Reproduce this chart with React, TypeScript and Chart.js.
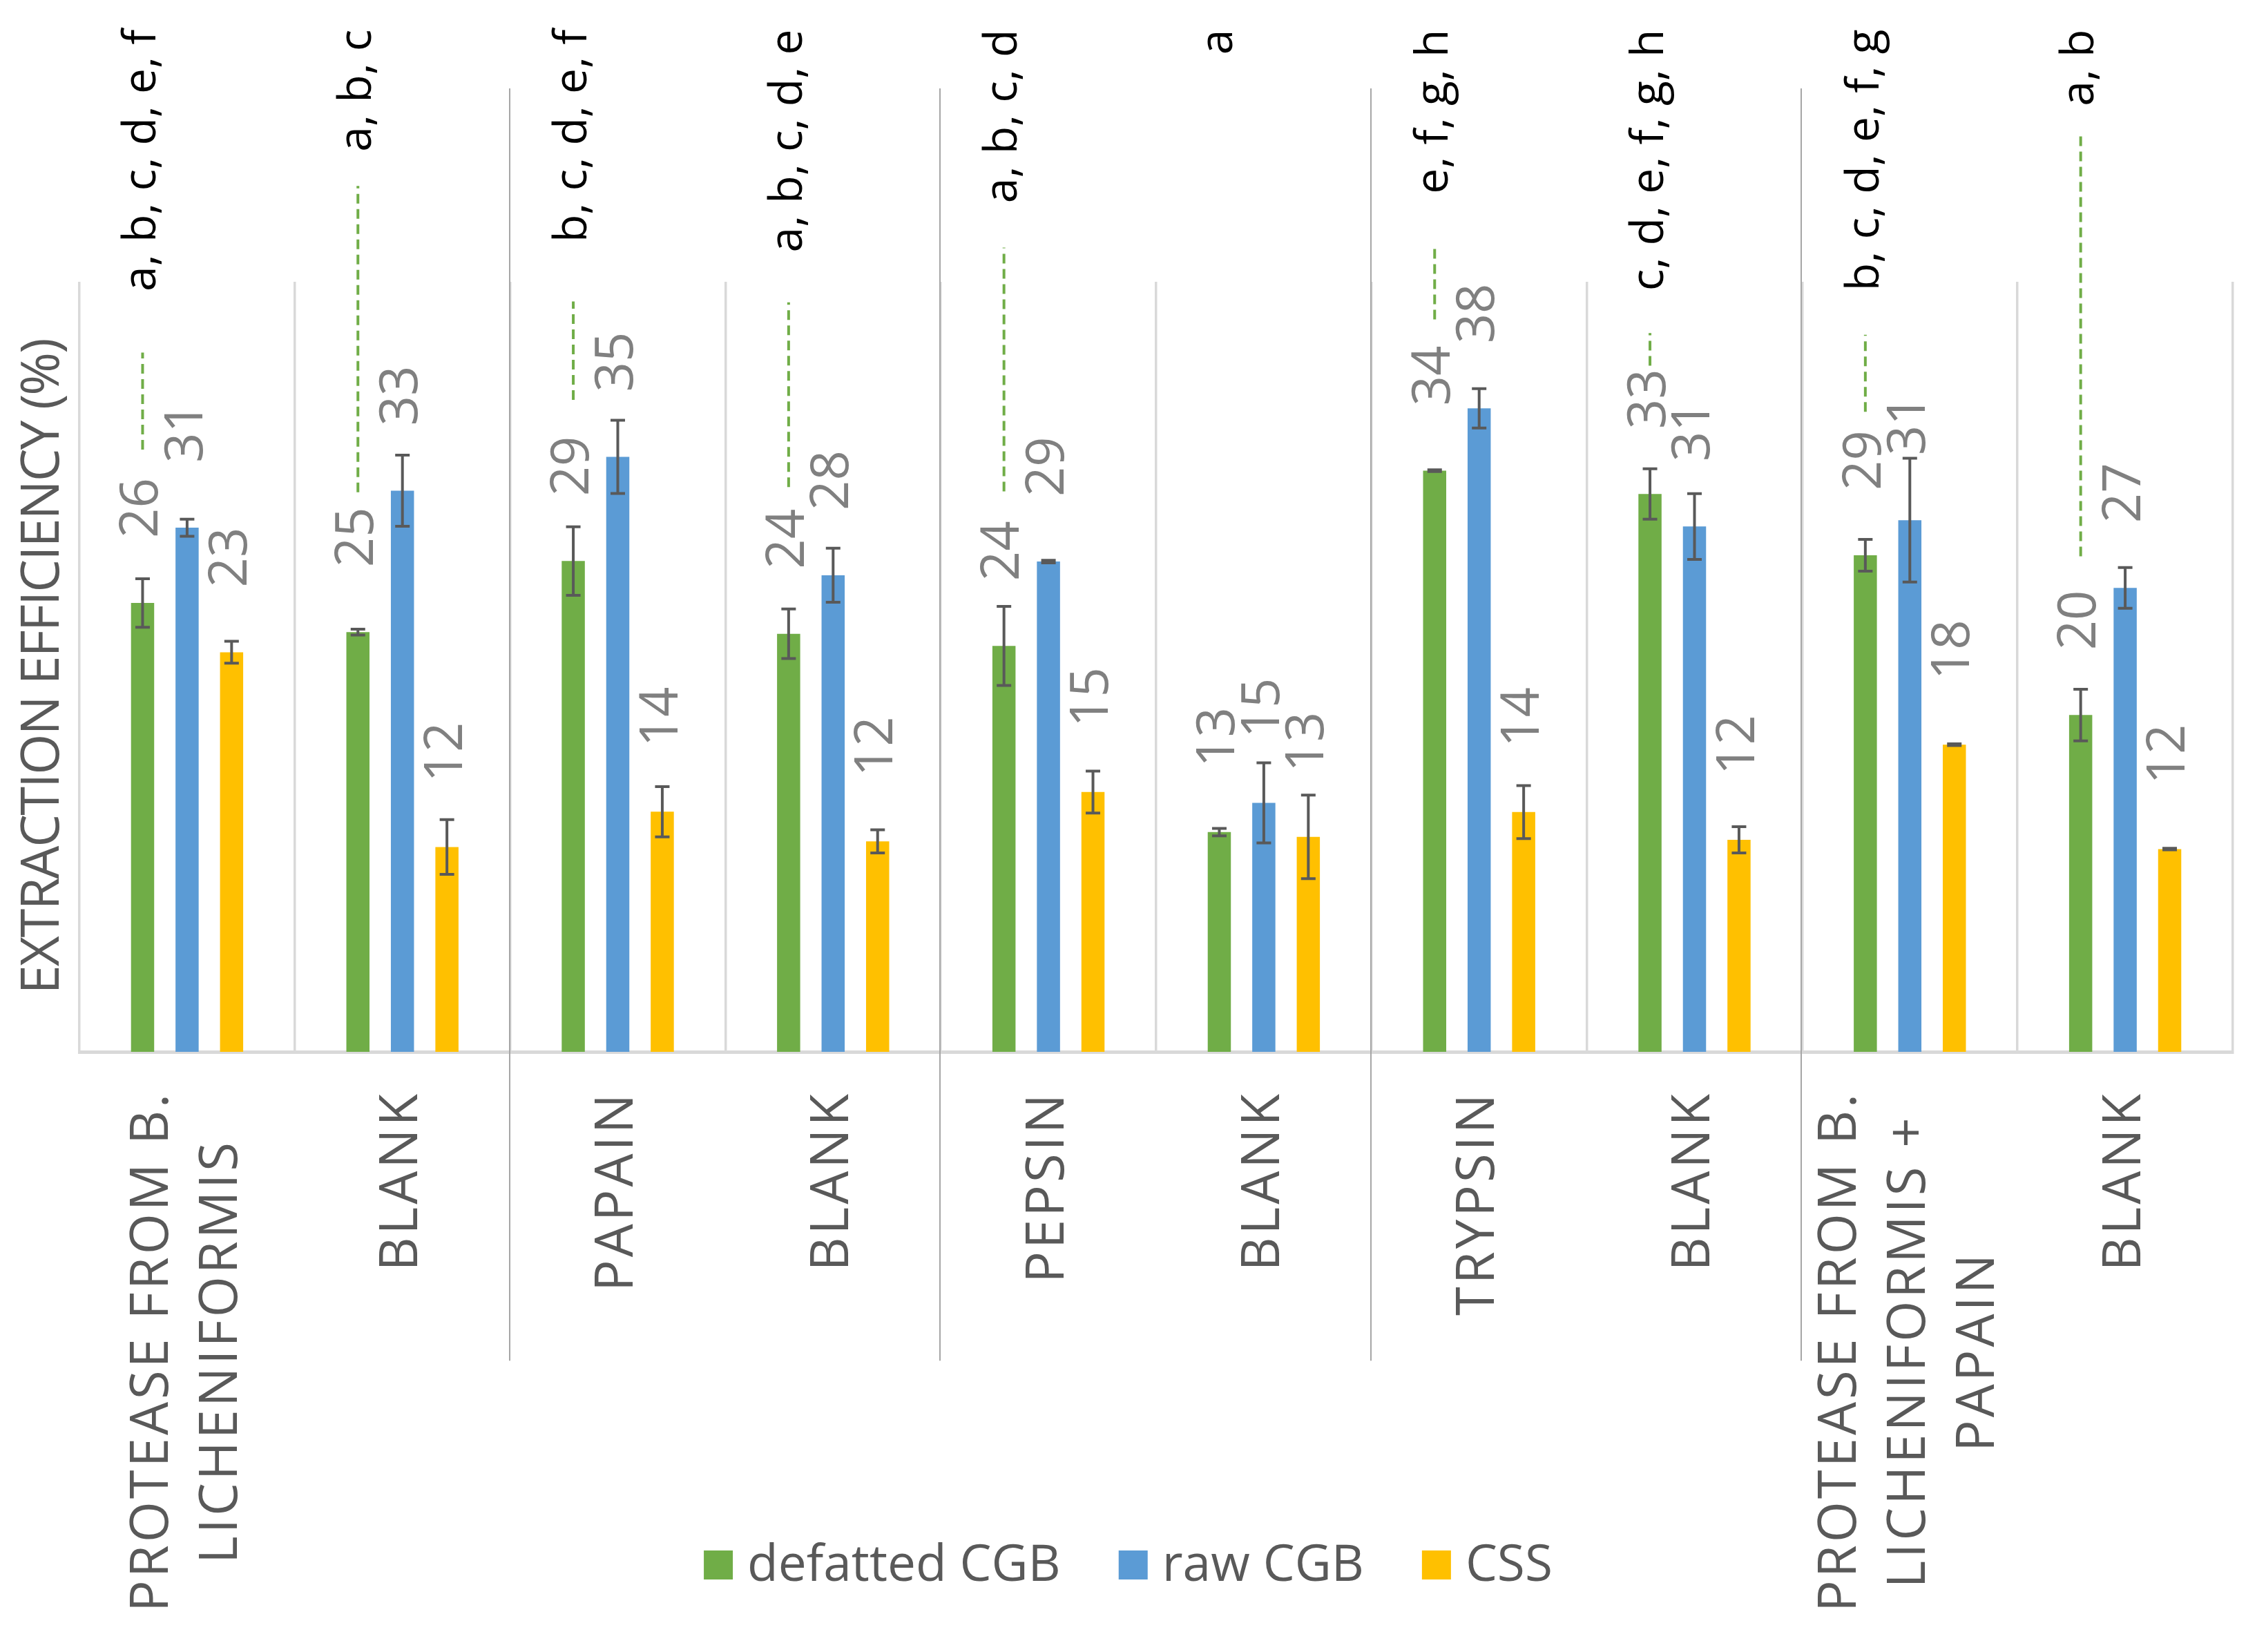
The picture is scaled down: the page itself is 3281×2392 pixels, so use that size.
import React, { useEffect, useRef } from 'react';
import { Chart, registerables } from 'chart.js';

Chart.register(...registerables);

// ---------- data ----------
const categories: (string | string[])[] = [
  ['PROTEASE FROM B.', 'LICHENIFORMIS'],
  'BLANK',
  'PAPAIN',
  'BLANK',
  'PEPSIN',
  'BLANK',
  'TRYPSIN',
  'BLANK',
  ['PROTEASE FROM B.', 'LICHENIFORMIS +', 'PAPAIN'],
  'BLANK',
];

const seriesNames = ['defatted CGB', 'raw CGB', 'CSS'];
const seriesColors = ['#70AD47', '#5B9BD5', '#FFC000'];

const defattedCGB = [26.23, 24.53, 28.68, 24.43, 23.72, 12.84, 33.96, 32.6, 29.02, 19.68];
const rawCGB = [30.63, 32.79, 34.77, 27.85, 28.65, 14.55, 37.6, 30.7, 31.07, 27.11];
const CSS = [23.35, 11.97, 14.03, 12.3, 15.18, 12.56, 14.01, 12.39, 17.95, 11.85];

const errDefatted = [1.42, 0.17, 2.0, 1.45, 2.31, 0.22, 0.05, 1.47, 0.93, 1.51];
const errRaw = [0.5, 2.08, 2.14, 1.58, 0.08, 2.34, 1.15, 1.92, 3.62, 1.19];
const errCSS = [0.64, 1.6, 1.47, 0.68, 1.23, 2.44, 1.55, 0.77, 0.05, 0.05];

const significanceLetters = [
  'a, b, c, d, e, f',
  'a, b, c',
  'b, c, d, e, f',
  'a, b, c, d, e',
  'a, b, c, d',
  'a',
  'e, f, g, h',
  'c, d, e, f, g, h',
  'b, c, d, e, f, g',
  'a, b',
];
// dashed leader lines (value units) from / to, null = none
const leaderFrom: (number | null)[] = [35.19, 32.7, 38.1, 33.0, 32.75, null, 42.8, 40.1, 37.4, 28.96];
const leaderTo: (number | null)[] = [40.86, 50.6, 43.85, 43.8, 47.0, null, 47.04, 42.0, 41.9, 53.6];

const yMin = 0;
const yMax = 45;
const groupBoundaries = [1.5, 3.5, 5.5, 7.5];
const yTitle = 'EXTRACTION EFFICIENCY (%)';

// ---------- style constants ----------
const FONT = '"Open Sans", "DejaVu Sans", sans-serif';
const W = 3281;
const H = 2392;

const values = [defattedCGB, rawCGB, CSS];
const errors = [errDefatted, errRaw, errCSS];

function rotText(ctx: CanvasRenderingContext2D, text: string, x: number, y: number, align: CanvasTextAlign) {
  ctx.save();
  ctx.translate(x, y);
  ctx.rotate(-Math.PI / 2);
  ctx.textAlign = align;
  ctx.textBaseline = 'middle';
  ctx.fillText(text, 0, 0);
  ctx.restore();
}

const annotPlugin = {
  id: 'annot',
  afterDatasetsDraw(chart: any) {
    const ctx: CanvasRenderingContext2D = chart.ctx;
    const ys = chart.scales.y;
    // error bars
    ctx.save();
    ctx.strokeStyle = '#595959';
    ctx.lineWidth = 4;
    values.forEach((vals, di) => {
      const meta = chart.getDatasetMeta(di);
      vals.forEach((v, i) => {
        const el = meta.data[i];
        const e = errors[di][i];
        const yt = ys.getPixelForValue(v + e);
        const yb = ys.getPixelForValue(v - e);
        ctx.beginPath();
        ctx.moveTo(el.x, yt);
        ctx.lineTo(el.x, yb);
        ctx.moveTo(el.x - 10.5, yt);
        ctx.lineTo(el.x + 10.5, yt);
        ctx.moveTo(el.x - 10.5, yb);
        ctx.lineTo(el.x + 10.5, yb);
        ctx.stroke();
      });
    });
    ctx.restore();

    // value labels
    ctx.save();
    ctx.fillStyle = '#808080';
    ctx.font = `76px ${FONT}`;
    values.forEach((vals, di) => {
      const meta = chart.getDatasetMeta(di);
      vals.forEach((v, i) => {
        const el = meta.data[i];
        rotText(ctx, String(Math.round(v)), el.x, el.y - 94, 'left');
      });
    });
    ctx.restore();

    // dashed leader lines + letters
    const gmeta = chart.getDatasetMeta(0);
    ctx.save();
    ctx.strokeStyle = '#70AD47';
    ctx.lineWidth = 4;
    ctx.setLineDash([14, 8]);
    leaderFrom.forEach((f, i) => {
      const t = leaderTo[i];
      if (f === null || t === null) return;
      const x = gmeta.data[i].x;
      ctx.beginPath();
      ctx.moveTo(x, ys.getPixelForValue(f));
      ctx.lineTo(x, ys.getPixelForValue(t));
      ctx.stroke();
    });
    ctx.restore();

    ctx.save();
    ctx.fillStyle = '#000000';
    ctx.font = `66px ${FONT}`;
    significanceLetters.forEach((txt, i) => {
      const x = gmeta.data[i].x;
      rotText(ctx, txt, x, ys.getPixelForValue(59.75), 'right');
    });
    ctx.restore();
  },
  afterDraw(chart: any) {
    const ctx: CanvasRenderingContext2D = chart.ctx;
    const xs = chart.scales.x;
    const ys = chart.scales.y;
    const area = chart.chartArea;

    // group separators
    ctx.save();
    ctx.strokeStyle = '#A6A6A6';
    ctx.lineWidth = 2;
    groupBoundaries.forEach((b) => {
      const x = Math.round(xs.getPixelForValue(b)) - 1;
      ctx.beginPath();
      ctx.moveTo(x, ys.getPixelForValue(56.3));
      ctx.lineTo(x, ys.getPixelForValue(-18.05));
      ctx.stroke();
    });
    ctx.restore();

    // category labels
    ctx.save();
    ctx.fillStyle = '#595959';
    ctx.font = `76px ${FONT}`;
    (ctx as any).letterSpacing = '4px';
    categories.forEach((lab, i) => {
      const lines = Array.isArray(lab) ? lab : [lab];
      const cx = xs.getPixelForValue(i);
      const maxW = Math.max(...lines.map((l) => ctx.measureText(l).width));
      const yEnd = area.bottom + 57;
      lines.forEach((l, j) => {
        const x = cx + (j - (lines.length - 1) / 2) * 100;
        rotText(ctx, l, x, yEnd + maxW / 2, 'center');
      });
    });
    (ctx as any).letterSpacing = '0px';
    ctx.restore();

    // y title
    ctx.save();
    ctx.fillStyle = '#595959';
    ctx.font = `76px ${FONT}`;
    (ctx as any).letterSpacing = '-2px';
    rotText(ctx, yTitle, area.left - 52, (area.top + area.bottom) / 2, 'center');
    (ctx as any).letterSpacing = '0px';
    ctx.restore();

    // legend
    ctx.save();
    ctx.font = `73px ${FONT}`;
    ctx.textBaseline = 'middle';
    ctx.textAlign = 'left';
    const box = 42;
    const gapText = 21;
    const gapItem = 84;
    const widths = seriesNames.map((n) => ctx.measureText(n).width);
    const total = widths.reduce((a, w) => a + box + gapText + w, 0) + gapItem * (seriesNames.length - 1);
    let x = chart.width / 2 - 7 - total / 2;
    const yc = 2266;
    seriesNames.forEach((n, i) => {
      ctx.fillStyle = seriesColors[i];
      ctx.fillRect(x, yc - box / 2, box, box);
      ctx.fillStyle = '#595959';
      ctx.fillText(n, x + box + gapText, yc + 2);
      x += box + gapText + widths[i] + gapItem;
    });
    ctx.restore();
  },
};

export default function App() {
  const ref = useRef<HTMLCanvasElement>(null);
  useEffect(() => {
    if (!ref.current) return;
    const chart = new Chart(ref.current, {
      type: 'bar',
      data: {
        labels: categories,
        datasets: seriesNames.map((name, i) => ({
          label: name,
          data: values[i],
          backgroundColor: seriesColors[i],
          borderWidth: 0,
          categoryPercentage: 0.62,
          barPercentage: 0.52,
        })),
      },
      options: {
        animation: false,
        responsive: false,
        devicePixelRatio: 1,
        layout: { padding: { top: 408, left: 115, right: 48, bottom: 0 } },
        plugins: {
          legend: { display: false },
          tooltip: { enabled: false },
          title: { display: false },
        },
        scales: {
          x: {
            display: true,
            offset: true,
            ticks: { display: false },
            grid: {
              display: true,
              offset: true,
              color: '#D9D9D9',
              lineWidth: 3.5,
              drawTicks: false,
            },
            border: { display: true, color: '#D9D9D9', width: 5 },
            afterFit: (scale: any) => {
              scale.height = 869;
            },
          },
          y: {
            display: false,
            min: yMin,
            max: yMax,
          },
        },
      },
      plugins: [annotPlugin],
    });
    return () => chart.destroy();
  }, []);
  return (
    <div style={{ position: 'fixed', left: 0, top: 0, width: W, height: H, background: '#fff' }}>
      <canvas ref={ref} width={W} height={H} style={{ display: 'block', width: W, height: H }} />
    </div>
  );
}
